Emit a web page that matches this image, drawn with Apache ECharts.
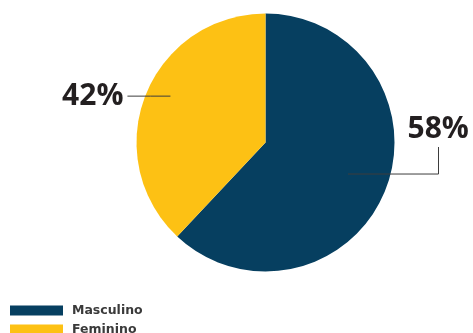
<!DOCTYPE html>
<html>
<head>
<meta charset="utf-8">
<script src="https://cdn.jsdelivr.net/npm/echarts@6/dist/echarts.min.js"></script>
<style>
html,body{margin:0;padding:0;background:#fff;}
#c{width:473px;height:333px;}
</style>
</head>
<body>
<div id="c"></div>
<script>
// Data
const categories = ['Masculino', 'Feminino'];
const sliceValues = [62, 38];          // slice sizes as drawn
const percentLabels = ['58%', '42%'];  // label texts as printed
const colors = ['#063f60', '#fdc114'];

const cx = 265.5, cy = 142.5, R = 129;

const legendBase = {
  orient: 'vertical',
  left: 10,
  padding: 0,
  itemWidth: 53,
  itemHeight: 10,
  icon: 'rect',
  textStyle: {
    fontFamily: 'DejaVu Sans',
    fontWeight: 'bold',
    fontSize: 12.5,
    color: '#3a3a3a',
    padding: [0, 0, 0, 4]
  }
};

function rot(v, deg) {
  const t = deg * Math.PI / 180;
  return [v[0] * Math.cos(t) - v[1] * Math.sin(t), v[0] * Math.sin(t) + v[1] * Math.cos(t)];
}

const chart = echarts.init(document.getElementById('c'), null, {renderer: 'canvas'});
chart.setOption({
  animation: false,
  color: colors,
  legend: [
    Object.assign({}, legendBase, {top: 304, data: [{name: categories[0], itemStyle: {color: colors[0]}}]}),
    Object.assign({}, legendBase, {top: 323, data: [{name: categories[1], itemStyle: {color: colors[1]}}]})
  ],
  series: [{
    type: 'pie',
    z: 2,
    center: [cx, cy],
    radius: [0, R],
    startAngle: 90,
    clockwise: true,
    label: {show: false},
    labelLine: {show: false},
    data: categories.map((n, i) => ({name: n, value: sliceValues[i]}))
  }, {
    type: 'pie',
    z: 5,
    silent: true,
    legendHoverLink: false,
    center: [cx, cy],
    radius: [0, R],
    startAngle: 90,
    clockwise: true,
    itemStyle: {color: 'rgba(0,0,0,0)'},
    data: categories.map((n, i) => ({name: n, value: sliceValues[i]})),
    label: {
      show: true,
      position: 'outside',
      overflow: 'none',
      formatter: p => percentLabels[p.dataIndex],
      fontFamily: 'Open Sans',
      fontWeight: 'bold',
      fontSize: 30,
      color: '#231f20'
    },
    labelLine: {
      show: true,
      length: 20,
      length2: 20,
      lineStyle: {color: '#3d3d3d', width: 1}
    },
    labelLayout: function (params) {
      const p0 = params.labelLinePoints ? params.labelLinePoints[0] : [cx + R, cy];
      let dx = p0[0] - cx, dy = p0[1] - cy;
      const len = Math.sqrt(dx * dx + dy * dy) || 1;
      dx /= len; dy /= len;
      if (params.dataIndex === 0) {
        const d = rot([dx, dy], -0.7);
        const s = [cx + 0.685 * R * d[0], cy + 0.685 * R * d[1]];
        const xe = cx + R + 44;
        return {
          x: cx + R + 13, y: cy - 13, align: 'left', verticalAlign: 'middle',
          labelLinePoints: [s, [xe, s[1]], [xe, cy + 4.5]]
        };
      } else {
        const d = rot([dx, dy], 4.4);
        const s = [cx + 0.82 * R * d[0], cy + 0.82 * R * d[1]];
        return {
          x: s[0] - 47, y: s[1], align: 'right', verticalAlign: 'middle',
          labelLinePoints: [s, [s[0] - 20, s[1]], [s[0] - 43, s[1]]]
        };
      }
    }
  }]
});
</script>
</body>
</html>
